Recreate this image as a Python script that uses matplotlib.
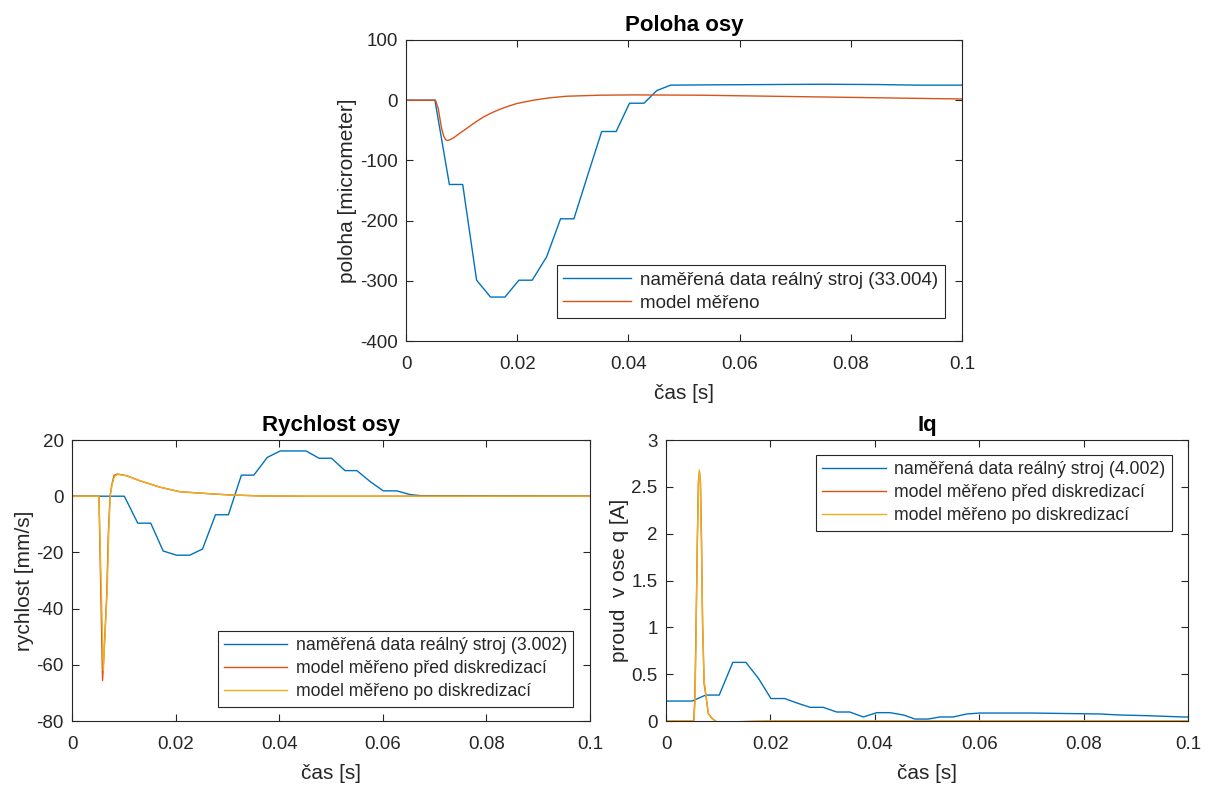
import matplotlib
matplotlib.use("Agg")
import matplotlib.pyplot as plt
from matplotlib.ticker import FixedLocator

plt.rcParams['font.family'] = ['Liberation Sans', 'DejaVu Sans']

C_BLUE = '#0072BD'
C_RED = '#D95319'
C_ORANGE = '#EDB120'
C_AX = '#262626'

# ---------------- data: Poloha osy ----------------
pol_real_t = [0, 0.0052, 0.0078, 0.0102, 0.0127, 0.0152, 0.0178, 0.0203, 0.0227, 0.0253,
              0.0278, 0.0302, 0.0327, 0.0352, 0.0378, 0.0402, 0.0428, 0.0451, 0.0476,
              0.055, 0.065, 0.075, 0.085, 0.092, 0.1]
pol_real = [0, 0, -140, -140, -299, -327, -327, -299, -299, -260,
            -197, -197, -124, -52, -52, -5, -5, 16, 25,
            25.5, 26, 26.5, 26, 25, 25]
pol_model_t = [0, 0.0053, 0.0058, 0.0064, 0.0068, 0.0071, 0.0074, 0.0078, 0.0085, 0.0095,
               0.0109, 0.0124, 0.0139, 0.0154, 0.0169, 0.0184, 0.0199, 0.0229, 0.0259,
               0.0289, 0.0349, 0.0409, 0.0529, 0.07, 0.085, 0.1]
pol_model = [0, 0, -14, -47, -60, -65, -67, -66, -63, -56,
             -47, -37, -28, -21, -15, -10, -5.6, 0, 4,
             6.6, 8.3, 8.8, 8.3, 6, 4, 2]

# ---------------- data: Rychlost osy ----------------
ry_real_t = [0, 0.0052, 0.0101, 0.0127, 0.0152, 0.0176, 0.0202, 0.0227, 0.0252, 0.0277,
             0.0302, 0.0327, 0.0351, 0.0377, 0.0402, 0.0452, 0.0477, 0.0501, 0.0527,
             0.055, 0.0577, 0.0601, 0.0627, 0.0652, 0.0672, 0.1]
ry_real = [0, 0, 0, -9.6, -9.6, -19.5, -21, -21, -18.8, -6.6,
           -6.6, 7.5, 7.5, 13.8, 16.1, 16.1, 13.5, 13.5, 9.1,
           9.1, 5, 1.9, 1.9, 0.6, 0.2, 0]
ry_pred_t = [0, 0.0052, 0.0059, 0.0062, 0.0067, 0.0070, 0.00734, 0.00766, 0.0081, 0.00875,
             0.01056, 0.0131, 0.017, 0.0208, 0.0247, 0.0299, 0.0363, 0.045, 0.1]
ry_pred = [0, 0, -65.6, -55, -35.4, -14.1, 0, 3.8, 7.4, 7.9,
           7.3, 5.5, 3.2, 1.6, 1.1, 0.5, 0.1, 0, 0]
ry_po_t = [0, 0.0052, 0.00605, 0.0068, 0.0071, 0.0074, 0.0078, 0.0082, 0.0088, 0.0106,
           0.0131, 0.017, 0.0208, 0.0247, 0.0299, 0.0363, 0.045, 0.1]
ry_po = [0, 0, -62, -33, -12, 0.5, 4.5, 7, 7.8, 7.2,
         5.5, 3.2, 1.6, 1.1, 0.5, 0.1, 0, 0]

# ---------------- data: Iq ----------------
iq_real_t = [0, 0.005, 0.0076, 0.0102, 0.0128, 0.0153, 0.0177, 0.0201, 0.0227, 0.0252,
             0.0276, 0.0301, 0.0327, 0.0352, 0.0378, 0.0404, 0.0429, 0.0455, 0.0477,
             0.0502, 0.0525, 0.055, 0.0576, 0.0601, 0.07, 0.0831, 0.087, 0.092, 0.0991, 0.1]
iq_real = [0.213, 0.213, 0.277, 0.277, 0.626, 0.626, 0.456, 0.24, 0.24, 0.19,
           0.146, 0.146, 0.096, 0.096, 0.043, 0.089, 0.089, 0.064, 0.021,
           0.021, 0.043, 0.043, 0.075, 0.085, 0.085, 0.075, 0.064, 0.057, 0.043, 0.043]
iq_pred_t = [0, 0.0053, 0.0055, 0.0057, 0.006, 0.0062, 0.0064, 0.0066, 0.0068, 0.007,
             0.0073, 0.0077, 0.0081, 0.0088, 0.0097, 0.012, 0.02, 0.1]
iq_pred = [0, 0, 0.2, 0.8, 1.9, 2.55, 2.66, 2.55, 1.95, 1.05,
           0.4, 0.25, 0.08, 0.03, -0.01, -0.01, 0, 0]
iq_po_t = [0, 0.00536, 0.00556, 0.00575, 0.006, 0.00626, 0.00638, 0.00658, 0.00677, 0.00703,
           0.00728, 0.0076, 0.0081, 0.00875, 0.0097, 0.012, 0.02, 0.1]
iq_po = [0, 0, 0.22, 0.86, 1.93, 2.57, 2.68, 2.57, 1.93, 1.04,
         0.44, 0.3, 0.08, 0.03, -0.01, -0.01, 0, 0]

x_ticks = [0, 0.02, 0.04, 0.06, 0.08, 0.1]
x_ticklabels = ['0', '0.02', '0.04', '0.06', '0.08', '0.1']

LEG1 = ['naměřená data reálný stroj (33.004)', 'model měřeno']
LEG2 = ['naměřená data reálný stroj (3.002)', 'model měřeno před diskredizací',
        'model měřeno po diskredizací']
LEG3 = ['naměřená data reálný stroj (4.002)', 'model měřeno před diskredizací',
        'model měřeno po diskredizací']

W, H = 1210, 785
fig = plt.figure(figsize=(W / 100, H / 100), dpi=100)


def mk_axes(l, r, t, b):
    return fig.add_axes([l / W, 1 - b / H, (r - l) / W, (b - t) / H])


def style(ax, yticks, yticklabels, ylim, title, ylabel):
    ax.set_xlim(0, 0.1)
    ax.set_ylim(*ylim)
    ax.xaxis.set_major_locator(FixedLocator(x_ticks))
    ax.set_xticklabels(x_ticklabels)
    ax.yaxis.set_major_locator(FixedLocator(yticks))
    ax.set_yticklabels(yticklabels)
    ax.tick_params(direction='in', top=True, right=True, length=5, width=0.8,
                   colors=C_AX, labelsize=13.5)
    ax.tick_params(axis='x', pad=11)
    ax.tick_params(axis='y', pad=6)
    for s in ax.spines.values():
        s.set_color(C_AX)
        s.set_linewidth(0.8)
    ax.set_title(title, fontsize=16, fontweight='bold', color='black', pad=6.5)
    ax.set_xlabel('čas [s]', fontsize=15, color=C_AX, labelpad=8)
    ax.set_ylabel(ylabel, fontsize=15, color=C_AX, labelpad=2)


def leg(ax, labels, loc, anchor, fs, spacing):
    lg = ax.legend(labels, loc=loc, bbox_to_anchor=anchor, borderaxespad=0,
                   fontsize=fs, fancybox=False, framealpha=1, edgecolor=C_AX,
                   handlelength=3.6, handletextpad=0.5, labelspacing=spacing,
                   borderpad=0.35)
    lg.get_frame().set_linewidth(0.8)
    for t in lg.get_texts():
        t.set_color(C_AX)


# Top: Poloha osy
ax1 = mk_axes(406, 962, 40, 341)
ax1.plot(pol_real_t, pol_real, color=C_BLUE, lw=1.0)
ax1.plot(pol_model_t, pol_model, color=C_RED, lw=1.0)
style(ax1, [-400, -300, -200, -100, 0, 100], ['-400', '-300', '-200', '-100', '0', '100'],
      (-400, 100), 'Poloha osy', 'poloha [micrometer]')
leg(ax1, LEG1, 'lower right', (0.969, 0.076), 13.5, 0.3)

# Bottom-left: Rychlost osy
ax2 = mk_axes(72, 590, 440, 721)
ax2.plot(ry_real_t, ry_real, color=C_BLUE, lw=1.0)
ax2.plot(ry_pred_t, ry_pred, color=C_RED, lw=1.0)
ax2.plot(ry_po_t, ry_po, color=C_ORANGE, lw=1.0)
style(ax2, [-80, -60, -40, -20, 0, 20], ['-80', '-60', '-40', '-20', '0', '20'],
      (-80, 20), 'Rychlost osy', 'rychlost [mm/s]')
leg(ax2, LEG2, 'lower right', (0.968, 0.051), 12.7, 0.35)

# Bottom-right: Iq
ax3 = mk_axes(666, 1188, 440, 721)
ax3.plot(iq_real_t, iq_real, color=C_BLUE, lw=1.0)
ax3.plot(iq_pred_t, iq_pred, color=C_RED, lw=1.0)
ax3.plot(iq_po_t, iq_po, color=C_ORANGE, lw=1.0)
style(ax3, [0, 0.5, 1, 1.5, 2, 2.5, 3], ['0', '0.5', '1', '1.5', '2', '2.5', '3'],
      (0, 3), 'Iq', 'proud  v ose q [A]')
leg(ax3, LEG3, 'upper right', (0.969, 0.947), 12.7, 0.35)

fig.savefig('out.png', dpi=100)
